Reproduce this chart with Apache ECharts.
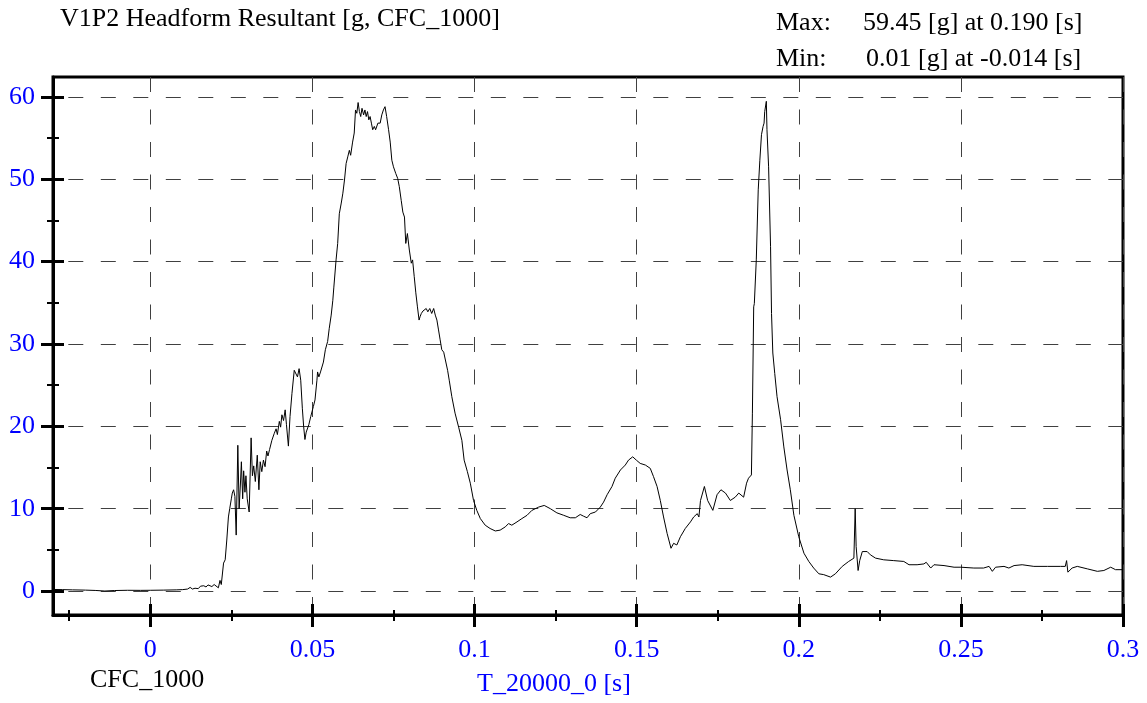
<!DOCTYPE html>
<html>
<head>
<meta charset="utf-8">
<script src="https://cdn.jsdelivr.net/npm/echarts@6/dist/echarts.min.js"></script>
<style>
html,body{margin:0;padding:0;background:#fff;}
#chart{width:1147px;height:703px;}
</style>
</head>
<body>
<div id="chart"></div>
<script>
// ---- data ----
const titleText = 'V1P2 Headform Resultant [g, CFC_1000]';
const maxLabel = 'Max:';
const maxText = '59.45 [g] at 0.190 [s]';
const minLabel = 'Min:';
const minText = '0.01 [g] at -0.014 [s]';
const filterText = 'CFC_1000';
const xAxisName = 'T_20000_0 [s]';

const xMajorTicks = [0, 0.05, 0.1, 0.15, 0.2, 0.25, 0.3];
const xMinorTicks = [-0.025, 0.025, 0.075, 0.125, 0.175, 0.225, 0.275];
const yMajorTicks = [0, 10, 20, 30, 40, 50, 60];
const yMinorTicks = [5, 15, 25, 35, 45, 55];

const time = [
-0.030,-0.027,-0.024,-0.020,-0.017,-0.014,-0.011,-0.007,-0.003,0.000,0.004,0.008,0.010,
0.0115,0.0123,0.0130,0.0138,0.0142,0.0148,0.0155,0.0160,0.0165,0.0172,0.0178,0.0184,0.0190,0.0197,0.0203,0.0210,
0.0215,0.0219,0.0226,0.0231,0.0236,0.0241,0.0245,0.0250,0.0253,0.0257,0.0261,0.0265,0.0270,0.0274,0.0278,0.0281,
0.0285,0.0288,0.0292,0.0295,0.0299,0.0305,0.0311,0.0315,0.0319,0.0324,0.0330,0.0335,0.0339,0.0344,0.0349,0.0354,
0.0359,0.0363,0.0368,0.0375,0.0382,0.0388,0.0392,0.0398,0.0402,0.0406,0.0411,0.0416,0.0420,0.0426,0.0431,0.0437,
0.0444,0.0450,0.0454,0.0459,0.0464,0.0469,0.0473,0.0477,0.0481,0.0489,0.0495,0.0503,0.0508,0.0514,0.0516,0.0520,
0.0525,0.0534,0.0540,0.0547,0.0552,0.0558,0.0563,0.0566,0.0573,0.0578,0.0583,0.0589,0.0594,0.0599,0.0604,0.0609,
0.0614,0.0618,0.0624,0.0629,0.0633,0.0637,0.0641,0.0645,0.0649,0.0653,0.0658,0.0662,0.0666,0.0670,0.0674,0.0678,
0.0682,0.0686,0.0691,0.0695,0.0702,0.0709,0.0714,0.0719,0.0724,0.0729,0.0735,0.0740,0.0745,0.0750,0.0757,0.0763,
0.0768,0.0774,0.0779,0.0784,0.0788,0.0793,0.0799,0.0805,0.0809,0.0814,0.0819,0.0824,0.0829,0.0832,0.0836,0.0841,
0.0846,0.0851,0.0856,0.0862,0.0868,0.0874,0.0879,0.0884,0.0889,0.0894,0.0899,0.0905,0.0910,0.0917,0.0922,0.0930,
0.0940,0.0951,0.0961,0.0968,0.0978,0.0987,0.0997,0.1007,0.1018,0.1033,0.1048,0.1064,0.1079,0.1095,0.1105,0.1115,
0.1131,0.1146,0.1162,0.1177,0.1198,0.1215,0.1234,0.1254,0.1275,0.1295,0.1311,0.1326,0.1336,0.1347,0.1357,0.1373,
0.1388,0.1398,0.1409,0.1424,0.1434,0.1450,0.1465,0.1475,0.1488,0.1499,0.1511,0.1527,0.1542,0.1552,0.1563,0.1573,
0.1583,0.1594,0.1606,0.1614,0.1624,0.1635,0.1650,0.1666,0.1676,0.1687,0.1692,0.1697,0.1709,0.1719,0.1735,0.1748,
0.1760,0.1774,0.1789,0.1804,0.1815,0.1830,0.1839,0.1845,0.1854,0.1857,0.1861,0.1863,0.1869,0.1875,0.1880,0.1885,
0.1890,0.1893,0.1895,0.1900,0.1902,0.1907,0.1913,0.1916,0.1920,0.1926,0.1933,0.1944,0.1954,0.1964,0.1974,0.1985,
0.2000,0.2016,0.2031,0.2046,0.2062,0.2077,0.2098,0.2113,0.2134,0.2154,0.2170,0.2174,0.2177,0.2183,0.2188,0.2196,
0.2201,0.2211,0.2221,0.2237,0.2262,0.2293,0.2324,0.2340,0.2365,0.2386,0.2393,0.2407,0.2417,0.2448,0.2479,0.2500,
0.2540,0.2570,0.2587,0.2597,0.2607,0.2633,0.2648,0.2664,0.2689,0.2694,0.2725,0.2767,0.2807,0.2822,0.2826,0.2830,
0.2843,0.2859,0.2890,0.2921,0.2941,0.2962,0.2977,0.2998
];
const resultantG = [
0.20,0.18,0.15,0.12,0.08,0.01,0.07,0.10,0.09,0.10,0.12,0.15,0.18,
0.25,0.45,0.25,0.35,0.55,0.30,0.60,0.45,0.65,0.50,0.75,0.70,0.55,0.80,0.60,0.40,
1.30,0.80,3.40,3.80,6.20,9.00,10.0,11.2,11.9,12.3,11.5,6.8,17.7,10.0,13.0,15.7,
11.2,14.6,12.0,14.0,11.2,9.6,18.6,14.0,15.2,13.3,16.5,12.3,15.7,14.5,15.9,15.1,
17.0,16.4,17.2,18.3,19.1,19.7,19.0,20.6,19.9,21.4,20.7,22.0,20.2,17.6,21.2,24.0,
26.8,27.0,26.0,27.0,25.6,22.2,20.0,18.4,19.3,20.2,21.2,22.4,23.2,25.6,26.6,26.0,
26.6,27.8,29.3,30.3,31.9,33.5,35.3,36.8,40.2,42.2,45.8,47.1,48.3,49.9,51.9,52.7,
53.5,52.9,54.5,55.6,58.4,58.0,59.3,58.2,57.6,58.6,57.8,58.4,57.6,58.2,57.2,57.6,
56.8,56.0,56.4,56.0,56.8,56.8,57.8,58.4,58.8,57.6,56.0,54.5,52.3,51.5,50.7,50.1,
49.1,47.4,46.0,45.4,42.2,43.4,41.4,39.8,40.2,38.2,36.2,34.5,32.9,33.3,33.7,34.0,
34.1,34.3,33.9,34.3,33.7,34.3,33.5,32.9,31.7,30.5,29.3,29.0,28.9,26.8,25.6,23.6,
21.6,19.9,18.3,15.9,14.5,13.1,11.0,9.8,8.8,8.0,7.6,7.3,7.4,7.8,8.2,8.0,
8.4,8.8,9.2,9.8,10.2,10.4,10.0,9.5,9.2,8.9,8.9,9.3,9.1,8.9,9.4,9.6,
10.2,10.8,11.7,12.7,13.7,14.7,15.3,15.9,16.3,15.9,15.5,15.3,14.9,13.9,12.7,11.0,
9.0,7.0,5.2,5.8,5.6,6.6,7.6,8.4,9.0,9.4,9.0,11.0,12.7,11.0,9.8,11.7,
12.3,11.9,11.0,11.4,11.9,11.4,13.1,13.7,14.1,21.6,34.5,34.9,40.2,48.7,52.3,55.4,
56.4,56.8,58.2,59.45,56.0,51.5,41.8,33.7,28.9,26.4,23.6,20.8,17.5,14.7,12.3,9.2,
6.6,4.6,3.6,2.8,2.1,2.0,1.7,2.1,3.0,3.6,4.0,10.0,5.4,2.5,3.7,4.8,
4.6,4.8,4.4,4.0,3.8,3.7,3.6,3.2,3.2,3.3,3.5,2.8,3.2,3.1,2.9,2.9,
2.8,2.8,3.0,2.4,2.9,3.0,2.8,3.1,3.2,3.0,3.0,3.0,3.0,3.0,3.7,2.3,
2.8,3.0,2.7,2.4,2.5,2.9,2.6,2.6
];

// ---- chart ----
const FONT = '"Liberation Serif", "Times New Roman", serif';
const BLUE = '#0000ff';
const seriesData = time.map((t, i) => [t, resultantG[i]]);
const fmtX = v => String(+(+v).toFixed(3));

const X_MIN = -0.03, X_MAX = 0.3, Y_MIN = -2.9, Y_MAX = 62.4;

function xAx(opts) {
  return Object.assign({
    type: 'value', position: 'bottom', min: X_MIN, max: X_MAX,
    axisLine: { show: false, onZero: false },
    axisTick: { show: false },
    axisLabel: { show: false },
    splitLine: { show: false }
  }, opts);
}
function yAx(opts) {
  return Object.assign({
    type: 'value', position: 'left', min: Y_MIN, max: Y_MAX,
    axisLine: { show: false, onZero: false },
    axisTick: { show: false },
    axisLabel: { show: false },
    splitLine: { show: false }
  }, opts);
}

const chart = echarts.init(document.getElementById('chart'), null, { renderer: 'canvas' });
chart.setOption({
  animation: false,
  backgroundColor: '#ffffff',
  grid: { left: 53, top: 77, width: 1070, height: 538, show: true, borderColor: '#000', borderWidth: 3, backgroundColor: 'transparent' },
  xAxis: [
    xAx({
      axisLine: { show: true, onZero: false, lineStyle: { color: '#000', width: 3 } },
      axisTick: { show: true, inside: false, length: 12, customValues: xMajorTicks, lineStyle: { color: '#000', width: 3 } },
      axisLabel: { show: true, customValues: xMajorTicks, formatter: fmtX, color: BLUE, fontFamily: FONT, fontSize: 26, margin: 22 },
      splitLine: { show: true, lineStyle: { color: '#404040', width: 1, type: [15, 17.5], dashOffset: 0 } }
    }),
    xAx({ axisTick: { show: true, inside: true, length: 11, customValues: xMajorTicks, lineStyle: { color: '#000', width: 3 } } }),
    xAx({ axisTick: { show: true, inside: false, length: 6, customValues: xMinorTicks, lineStyle: { color: '#000', width: 2 } } }),
    xAx({ axisTick: { show: true, inside: true, length: 5, customValues: xMinorTicks, lineStyle: { color: '#000', width: 2 } } })
  ],
  yAxis: [
    yAx({
      axisLine: { show: true, onZero: false, lineStyle: { color: '#000', width: 3 } },
      axisTick: { show: true, inside: false, length: 12, customValues: yMajorTicks, lineStyle: { color: '#000', width: 3 } },
      axisLabel: { show: true, customValues: yMajorTicks, color: BLUE, fontFamily: FONT, fontSize: 26, margin: 18 },
      splitLine: { show: true, lineStyle: { color: '#404040', width: 1, type: [15, 17.5], dashOffset: 17.2 } }
    }),
    yAx({ axisTick: { show: true, inside: true, length: 11, customValues: yMajorTicks, lineStyle: { color: '#000', width: 3 } } }),
    yAx({ axisTick: { show: true, inside: false, length: 6, customValues: yMinorTicks, lineStyle: { color: '#000', width: 2 } } }),
    yAx({ axisTick: { show: true, inside: true, length: 6, customValues: yMinorTicks, lineStyle: { color: '#000', width: 2 } } })
  ],
  series: [{
    type: 'line',
    xAxisIndex: 0, yAxisIndex: 0,
    data: seriesData,
    showSymbol: false,
    symbol: 'none',
    lineStyle: { color: '#000', width: 1 },
    z: 5
  }],
  graphic: [
    { type: 'text', left: 60, top: 6, style: { text: titleText, font: '26px ' + FONT, fill: '#000' } },
    { type: 'text', left: 776, top: 10, style: { text: maxLabel, font: '26px ' + FONT, fill: '#000' } },
    { type: 'text', left: 863, top: 10, style: { text: maxText, font: '26px ' + FONT, fill: '#000' } },
    { type: 'text', left: 776, top: 46.5, style: { text: minLabel, font: '26px ' + FONT, fill: '#000' } },
    { type: 'text', left: 866, top: 46.5, style: { text: minText, font: '26px ' + FONT, fill: '#000' } },
    { type: 'text', left: 90, top: 667.5, style: { text: filterText, font: '26px ' + FONT, fill: '#000' } },
    { type: 'text', left: 477, top: 671, style: { text: xAxisName, font: '26px ' + FONT, fill: BLUE } }
  ]
});
</script>
</body>
</html>
